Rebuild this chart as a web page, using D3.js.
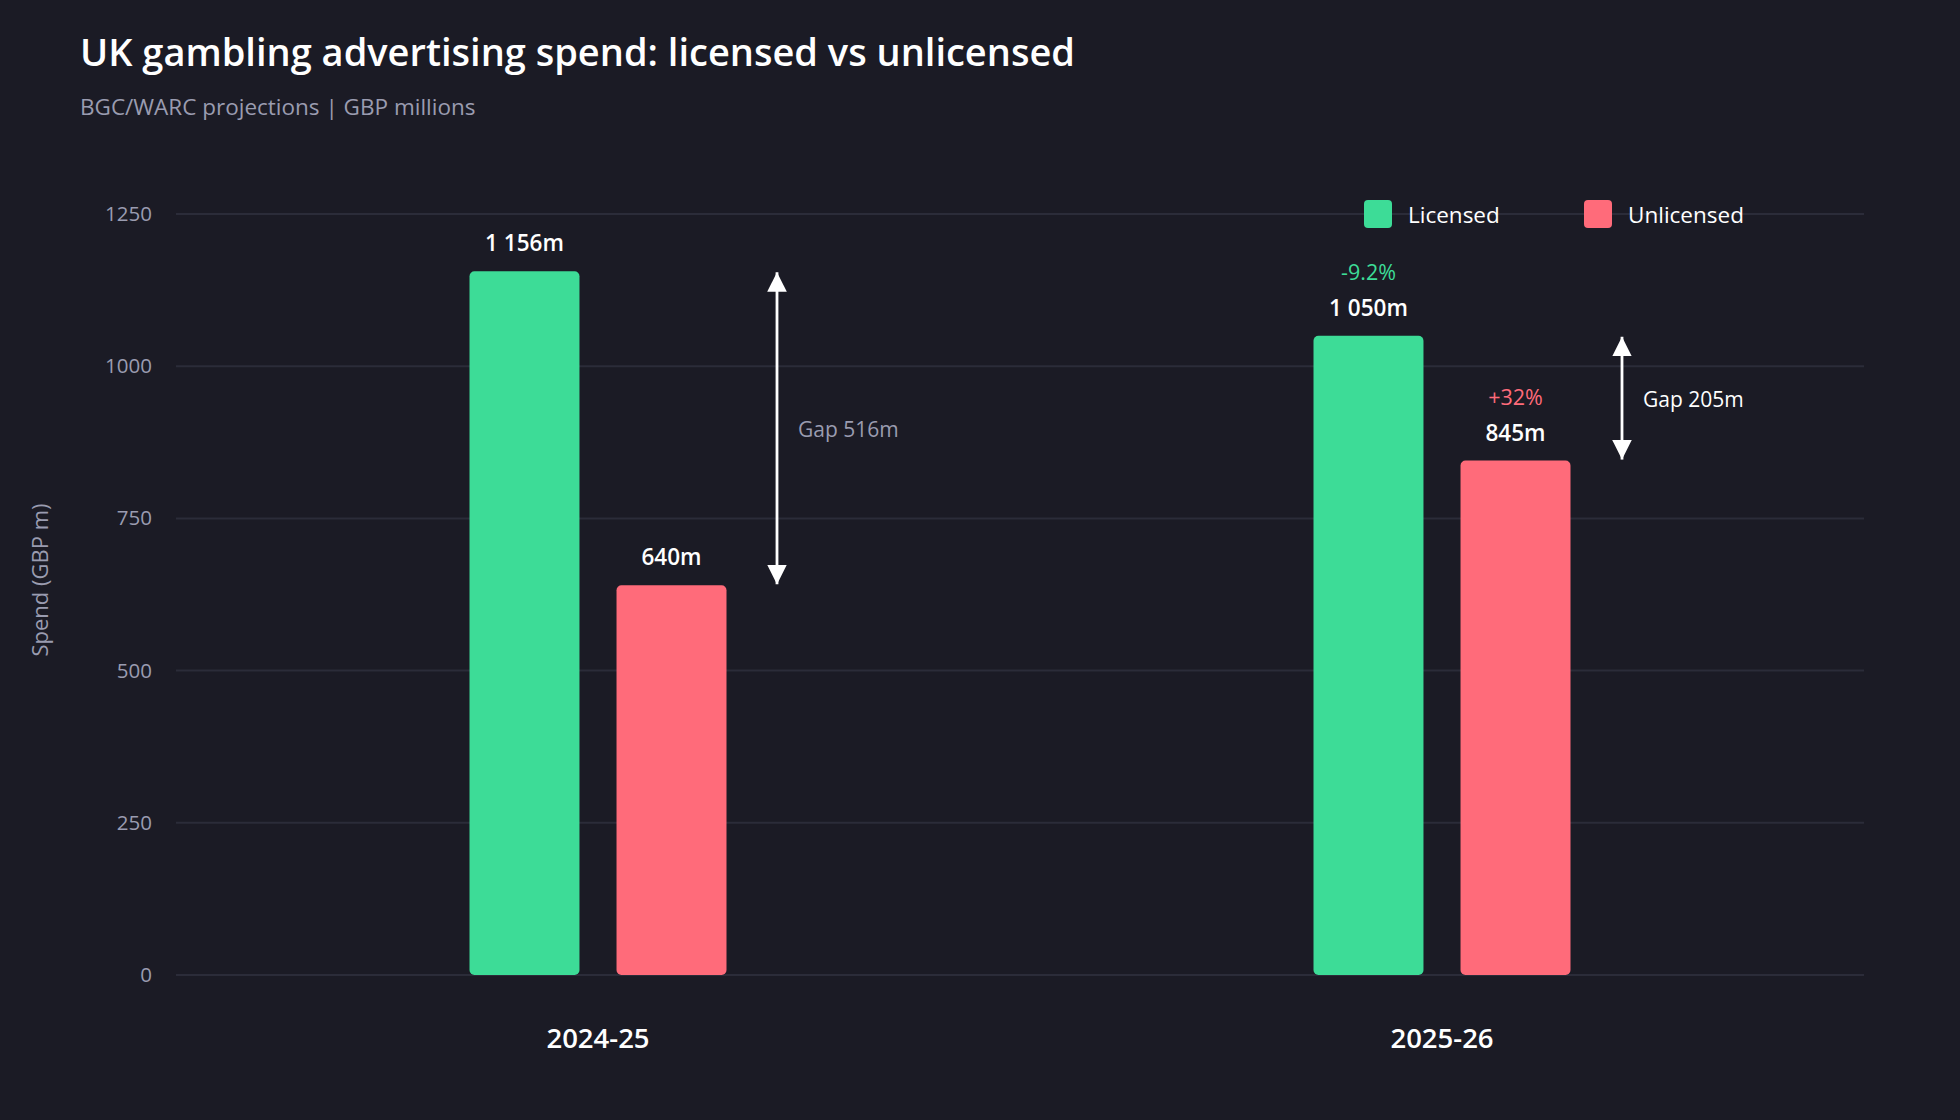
<!DOCTYPE html>
<html><head><meta charset="utf-8">
<script src="https://cdn.jsdelivr.net/npm/d3@7/dist/d3.min.js"></script>
<style>
html,body{margin:0;padding:0;background:#1b1b25;}
svg{display:block;font-family:"Segoe UI","Open Sans","Noto Sans",sans-serif;}
</style></head>
<body>
<svg id="chart" width="1960" height="1120"></svg>
<script>
const periods = ["2024-25", "2025-26"];
const seriesNames = ["Licensed", "Unlicensed"];
const licensed = [1156, 1050];
const unlicensed = [640, 845];
const changeLabels = [null, ["-9.2%", "+32%"]];
const gapLabels = ["Gap 516m", "Gap 205m"];
const yTicks = [0, 250, 500, 750, 1000, 1250];

const colors = {Licensed: "#3ddc97", Unlicensed: "#ff6b7a"};
const bg = "#1b1b25", grid = "#2b2c39", muted = "#9a9cb0";

const svg = d3.select("#chart");
svg.append("rect").attr("width",1960).attr("height",1120).attr("fill",bg);

const m = {left:176, right:96, top:214, bottom:145};
const W = 1960, H = 1120;
const x0 = d3.scaleBand().domain(periods).range([m.left, W-m.right]).paddingInner(0).paddingOuter(0);
const x1 = d3.scaleBand().domain(seriesNames).range([0, 257]).paddingInner(0.252);
const y = d3.scaleLinear().domain([0,1250]).range([H-m.bottom, m.top]);

// grid
svg.append("g").selectAll("line").data(yTicks).join("line")
  .attr("x1", m.left).attr("x2", W-m.right)
  .attr("y1", d=>y(d)).attr("y2", d=>y(d))
  .attr("stroke", grid).attr("stroke-width", 2);

// y axis labels
const yAxis = d3.axisLeft(y).tickValues(yTicks).tickSize(0).tickPadding(0).tickFormat(d3.format("d"));
const ga = svg.append("g").attr("transform",`translate(152,0)`).call(yAxis);
ga.attr("font-family", null).attr("font-size", null);
ga.select(".domain").remove();
ga.selectAll("text").attr("fill", muted).attr("font-size", 20.5);

// y title
svg.append("text").attr("transform",`translate(48,580) rotate(-90)`)
  .attr("text-anchor","middle").attr("fill", muted).attr("font-size",22).text("Spend (GBP m)");

// x axis labels
const xAxis = d3.axisBottom(x0).tickSize(0).tickPadding(0);
const gx = svg.append("g").attr("transform",`translate(0,1048)`).call(xAxis);
gx.attr("font-family", null).attr("font-size", null);
gx.select(".domain").remove();
gx.selectAll("text").attr("fill","#ffffff").attr("font-size",27.5).attr("font-weight",600).attr("dy",0);

// bars
const rows = periods.map((p,i)=>({period:p, i, vals:[{s:"Licensed",v:licensed[i]},{s:"Unlicensed",v:unlicensed[i]}]}));
const groups = svg.append("g").selectAll("g").data(rows).join("g")
  .attr("transform", d=>`translate(${x0(d.period)+x0.bandwidth()/2-128.5},0)`);
groups.selectAll("rect").data(d=>d.vals).join("rect")
  .attr("x", d=>x1(d.s)).attr("width", x1.bandwidth())
  .attr("y", d=>y(d.v)).attr("height", d=>y(0)-y(d.v))
  .attr("rx",5).attr("fill", d=>colors[d.s]);
groups.selectAll("text.val").data(d=>d.vals).join("text").attr("class","val")
  .attr("x", d=>x1(d.s)+x1.bandwidth()/2).attr("y", d=>y(d.v)-20)
  .attr("text-anchor","middle").attr("fill","#fff").attr("font-size",22.5).attr("font-weight",600)
  .text(d=>d3.format(",")(d.v).replace(",", " ")+"m");
groups.each(function(d){
  const ch = changeLabels[d.i];
  if(!ch) return;
  d3.select(this).selectAll("text.chg").data(d.vals).join("text").attr("class","chg")
    .attr("x", v=>x1(v.s)+x1.bandwidth()/2).attr("y", v=>y(v.v)-56)
    .attr("text-anchor","middle").attr("fill", v=>colors[v.s]).attr("font-size",21.5)
    .text((v,k)=>ch[k]);
});

// gap arrows
const defs = svg.append("defs");
defs.append("marker").attr("id","ah").attr("viewBox","0 0 10 10").attr("refX",10).attr("refY",5)
  .attr("markerWidth",7).attr("markerHeight",7).attr("markerUnits","strokeWidth").attr("orient","auto-start-reverse")
  .append("path").attr("d","M0,0L10,5L0,10Z").attr("fill","#fff");
const gapColors = [muted, "#ffffff"];
rows.forEach((d,i)=>{
  const ax = x0(d.period)+x0.bandwidth()/2 + (i===0?179:180);
  svg.append("line").attr("x1",ax).attr("x2",ax)
    .attr("y1", y(licensed[i])+1).attr("y2", y(unlicensed[i])-1)
    .attr("stroke","#fff").attr("stroke-width",2.8)
    .attr("marker-start","url(#ah)").attr("marker-end","url(#ah)");
  svg.append("text").attr("x", ax+21).attr("y",(y(licensed[i])+y(unlicensed[i]))/2+1)
    .attr("dominant-baseline","central").attr("fill",gapColors[i]).attr("font-size",21)
    .text(gapLabels[i]);
});

// legend
const lg = svg.append("g");
const legX = [1364, 1584];
seriesNames.forEach((s,i)=>{
  lg.append("rect").attr("x",legX[i]).attr("y",200).attr("width",28).attr("height",28).attr("rx",4).attr("fill",colors[s]);
  lg.append("text").attr("x",legX[i]+44).attr("y",223).attr("fill","#fff").attr("font-size",22.5).text(s);
});

// titles
svg.append("text").attr("x",80).attr("y",66).attr("fill","#fff").attr("font-size",38).attr("font-weight",600)
  .text("UK gambling advertising spend: licensed vs unlicensed");
svg.append("text").attr("x",80).attr("y",115).attr("fill",muted).attr("font-size",22.5)
  .text("BGC/WARC projections | GBP millions");
</script>
</body></html>
